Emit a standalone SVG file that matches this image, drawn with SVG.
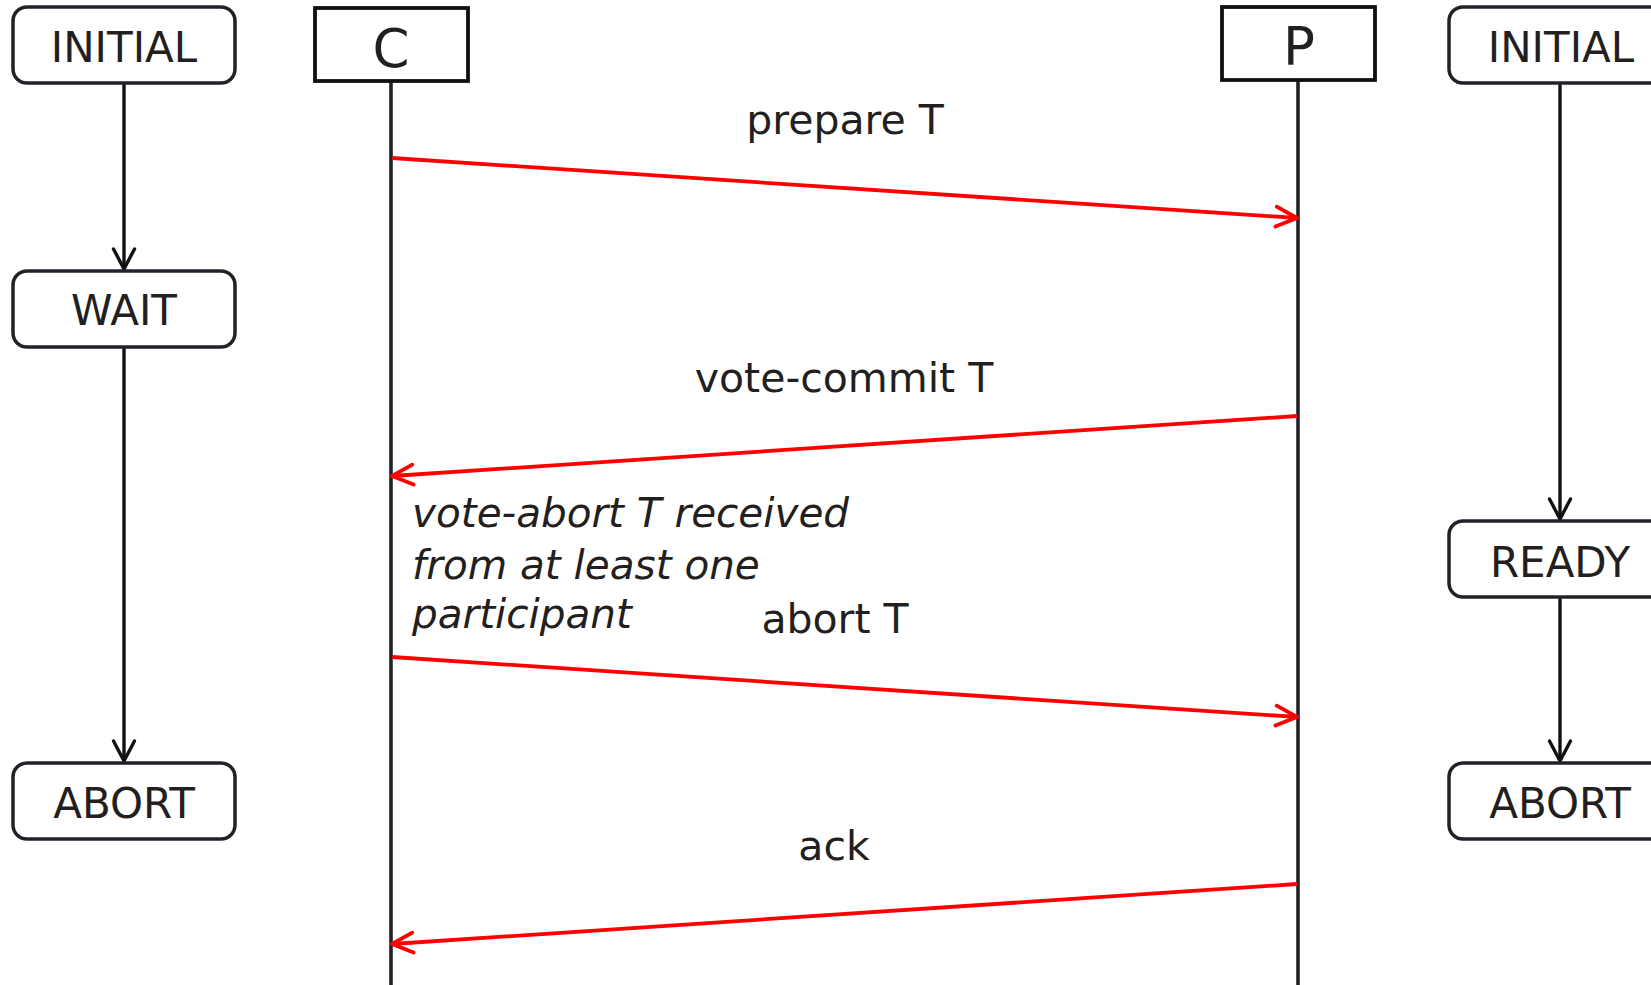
<svg xmlns="http://www.w3.org/2000/svg" width="1651" height="985" viewBox="0 0 1651 985">
<defs>
<style>
.state rect{fill:#fff;stroke:#1f2328;stroke-width:3.5}
.obj rect{fill:#fff;stroke:#111;stroke-width:3.8}
.t{font-family:"DejaVu Sans",sans-serif;fill:#231f20;text-anchor:middle}
.st{font-size:42px}
.ob{font-size:53px}
.lbl{font-size:41px}
.it{font-family:"DejaVu Sans",sans-serif;font-style:italic;font-size:40.5px;fill:#231f20}
.life{stroke:#1f2328;stroke-width:3.6;fill:none}
.flow{stroke:#111;stroke-width:3.4;fill:none}
.msg{stroke:#ff0000;stroke-width:3.8;fill:none}
</style>
<marker id="bk" markerUnits="userSpaceOnUse" markerWidth="30" markerHeight="30" viewBox="-25 -15 30 30" refX="0" refY="0" orient="auto">
<path d="M-20,-10.5 L0,0 L-20,10.5" fill="none" stroke="#111" stroke-width="3.4" stroke-linecap="round" stroke-linejoin="round"/>
</marker>
<marker id="rd" markerUnits="userSpaceOnUse" markerWidth="30" markerHeight="30" viewBox="-25 -15 30 30" refX="0" refY="0" orient="auto">
<path d="M-21,-10 L0,0 L-21,10" fill="none" stroke="#ff0000" stroke-width="3.8" stroke-linecap="round" stroke-linejoin="round"/>
</marker>
</defs>
<rect width="1651" height="985" fill="#fff"/>

<g id="lifelines">
<line class="life" x1="391" y1="81" x2="391" y2="985"/>
<line class="life" x1="1298" y1="80" x2="1298" y2="985"/>
</g>

<g id="connectors">
<line class="flow" x1="124" y1="83" x2="124" y2="269" marker-end="url(#bk)"/>
<line class="flow" x1="124" y1="347" x2="124" y2="761" marker-end="url(#bk)"/>
<line class="flow" x1="1560" y1="83" x2="1560" y2="519" marker-end="url(#bk)"/>
<line class="flow" x1="1560" y1="597" x2="1560" y2="761" marker-end="url(#bk)"/>
<line class="msg" x1="392" y1="158" x2="1297" y2="218" marker-end="url(#rd)"/>
<line class="msg" x1="1297" y1="416" x2="392" y2="476" marker-end="url(#rd)"/>
<line class="msg" x1="392" y1="657" x2="1297" y2="717" marker-end="url(#rd)"/>
<line class="msg" x1="1297" y1="884" x2="392" y2="944" marker-end="url(#rd)"/>
</g>

<g id="c-initial" class="state"><rect x="13" y="7" width="222" height="76" rx="14"/><text class="t st" x="124" y="62">INITIAL</text></g>
<g id="c-wait" class="state"><rect x="13" y="271" width="222" height="76" rx="14"/><text class="t st" x="124" y="325">WAIT</text></g>
<g id="c-abort" class="state"><rect x="13" y="763" width="222" height="76" rx="14"/><text class="t st" x="124" y="818">ABORT</text></g>

<g id="obj-c" class="obj"><rect x="315" y="8" width="153" height="73"/><text class="t ob" x="391" y="67">C</text></g>
<g id="obj-p" class="obj"><rect x="1222" y="7" width="153" height="73"/><text class="t ob" x="1299" y="65">P</text></g>

<g id="p-initial" class="state"><rect x="1449" y="7" width="222" height="76" rx="14"/><text class="t st" x="1561" y="62">INITIAL</text></g>
<g id="p-ready" class="state"><rect x="1449" y="521" width="222" height="76" rx="14"/><text class="t st" x="1560" y="577">READY</text></g>
<g id="p-abort" class="state"><rect x="1449" y="763" width="222" height="76" rx="14"/><text class="t st" x="1560" y="818">ABORT</text></g>

<g id="labels">
<text class="t lbl" x="845" y="134">prepare T</text>
<text class="t lbl" x="844" y="392">vote-commit T</text>
<text class="t lbl" x="835" y="633">abort T</text>
<text class="t lbl" x="834" y="860">ack</text>
<text class="it" x="412" y="527">vote-abort T received</text>
<text class="it" x="412" y="579">from at least one</text>
<text class="it" x="412" y="628">participant</text>
</g>
</svg>
